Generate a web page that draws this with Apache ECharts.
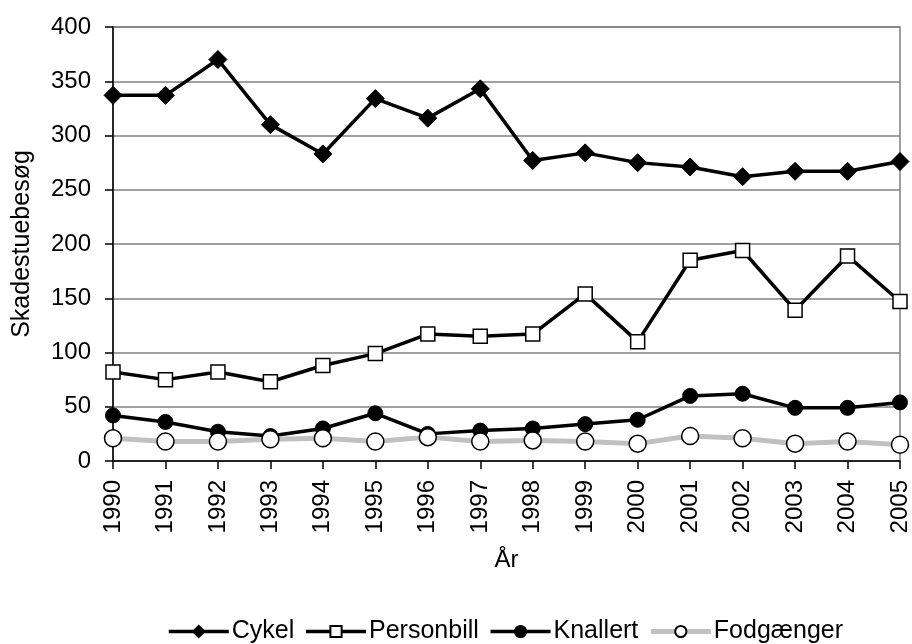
<!DOCTYPE html>
<html>
<head>
<meta charset="utf-8">
<script src="https://cdn.jsdelivr.net/npm/echarts@6/dist/echarts.min.js"></script>
<style>
  html, body { margin: 0; padding: 0; background: #fff; }
  #chart { width: 912px; height: 644px; }
</style>
</head>
<body>
<div id="chart"></div>
<script>
// Skadestuebesøg per trafikantgruppe, 1990-2005
const years = ['1990','1991','1992','1993','1994','1995','1996','1997','1998','1999','2000','2001','2002','2003','2004','2005'];
const cykel      = [337, 337, 370, 310, 283, 334, 316, 343, 277, 284, 275, 271, 262, 267, 267, 276];
const personbil  = [82, 75, 82, 73, 88, 99, 117, 115, 117, 154, 110, 185, 194, 139, 189, 147];
const knallert   = [42, 36, 27, 23, 30, 44, 25, 28, 30, 34, 38, 60, 62, 49, 49, 54];
const fodgaenger = [21, 18, 18, 20, 21, 18, 22, 18, 19, 18, 16, 23, 21, 16, 18, 15];
const seriesNames = ['Cykel', 'Personbill', 'Knallert', 'Fodgænger'];
const yTicks = { min: 0, max: 400, interval: 50 };

const FONT = 'Liberation Sans, Arial, sans-serif';
const chart = echarts.init(document.getElementById('chart'), null, { renderer: 'canvas' });

chart.setOption({
  backgroundColor: '#ffffff',
  animation: false,
  textStyle: { fontFamily: FONT, color: '#000' },
  grid: {
    left: 113, right: 11, top: 27, bottom: 183,
    show: true, borderColor: '#808080', borderWidth: 1.5
  },
  legend: {
    top: 614,
    left: 162,
    itemWidth: 60,
    itemHeight: 14,
    itemGap: 10,
    lineStyle: { width: 3.5 },
    data: [
      { name: seriesNames[0] },
      { name: seriesNames[1] },
      { name: seriesNames[2] },
      { name: seriesNames[3], lineStyle: { width: 5 } }
    ],
    textStyle: { fontSize: 25, color: '#000', fontFamily: FONT, padding: [0, 0, 0, -2] }
  },
  xAxis: {
    type: 'category',
    data: years,
    boundaryGap: false,
    name: 'År',
    nameLocation: 'middle',
    nameGap: 87,
    nameTextStyle: { fontSize: 24, color: '#000', fontFamily: FONT },
    axisLine: { lineStyle: { color: '#000', width: 1.5 } },
    axisTick: { show: true, length: 8, inside: false, lineStyle: { color: '#000', width: 1.5 } },
    axisLabel: { rotate: 90, fontSize: 24, color: '#000', margin: 19, fontFamily: FONT },
    splitLine: { show: false }
  },
  yAxis: {
    type: 'value',
    min: yTicks.min, max: yTicks.max, interval: yTicks.interval,
    name: 'Skadestuebesøg',
    nameLocation: 'middle',
    nameGap: 78,
    nameTextStyle: { fontSize: 25, color: '#000', fontFamily: FONT },
    axisLine: { show: true, lineStyle: { color: '#000', width: 1.5 } },
    axisTick: { show: true, length: 8, lineStyle: { color: '#000', width: 1.5 } },
    axisLabel: { fontSize: 24, color: '#000', margin: 22, fontFamily: FONT },
    splitLine: { show: true, lineStyle: { color: '#808080', width: 1.5 } }
  },
  series: [
    {
      name: seriesNames[0], type: 'line', data: cykel,
      symbol: 'diamond', symbolSize: 18,
      lineStyle: { color: '#000', width: 3.5 },
      itemStyle: { color: '#000', borderColor: '#000', borderWidth: 1 }
    },
    {
      name: seriesNames[1], type: 'line', data: personbil,
      symbol: 'rect', symbolSize: 14,
      lineStyle: { color: '#000', width: 3.5 },
      itemStyle: { color: '#fff', borderColor: '#000', borderWidth: 1.5 }
    },
    {
      name: seriesNames[2], type: 'line', data: knallert,
      symbol: 'circle', symbolSize: 15,
      lineStyle: { color: '#000', width: 3.5 },
      itemStyle: { color: '#000', borderColor: '#000', borderWidth: 1 }
    },
    {
      name: seriesNames[3], type: 'line', data: fodgaenger,
      symbol: 'circle', symbolSize: 17,
      lineStyle: { color: '#c0c0c0', width: 5 },
      itemStyle: { color: '#fff', borderColor: '#000', borderWidth: 1.5 }
    }
  ]
});
</script>
</body>
</html>
